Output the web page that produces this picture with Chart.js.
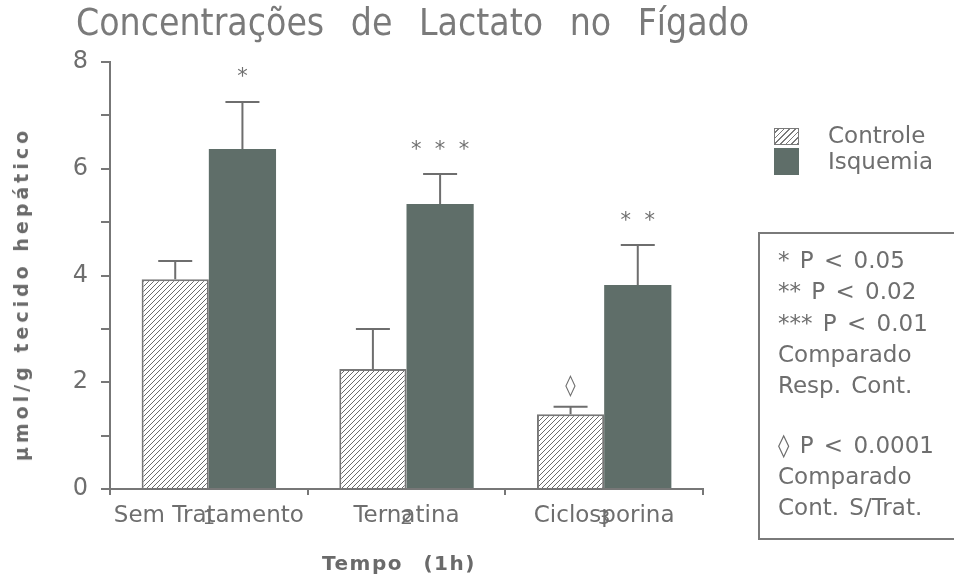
<!DOCTYPE html>
<html>
<head>
<meta charset="utf-8">
<script src="https://cdn.jsdelivr.net/npm/chart.js@4.4.1/dist/chart.umd.min.js"></script>
<style>
  html, body { margin: 0; padding: 0; background: #fff; }
  #wrap { position: relative; width: 954px; height: 581px; overflow: hidden; font-family: 'DejaVu Sans', sans-serif; color: #6e6e6e; }
  #c { position: absolute; left: 0; top: 0; }
  .abs { position: absolute; white-space: nowrap; }
  #title { left: 76px; top: 2px; font-family: 'DejaVu Sans Condensed', 'DejaVu Sans', sans-serif; font-stretch: condensed; font-size: 37px; color: #7a7a7a; word-spacing: 16px; line-height: 42px; }
  #ytitle { left: 21px; top: 294px; transform: translate(-50%, -50%) rotate(-90deg); font-weight: bold; font-size: 19px; letter-spacing: 4px; color: #6a6a6a; }
  #xtitle { left: 399px; top: 563px; transform: translate(-50%, -50%); font-weight: bold; font-size: 20px; letter-spacing: 1.5px; color: #6a6a6a; word-spacing: 12px; }
  .sw { position: absolute; left: 774px; width: 25px; height: 17px; box-sizing: border-box; }
  #sw1 { top: 128px; border: 1.5px solid #7a7a7a; background: repeating-linear-gradient(-45deg, #7a7a7a 0 1px, #fff 1px 4px); }
  #sw2 { top: 148px; height: 27px; background: #5f6e69; }
  .lg { font-size: 23px; left: 828px; }
  #pbox { left: 758px; top: 232px; width: 220px; height: 308px; border: 2px solid #7a7a7a; box-sizing: border-box; }
  .pl { font-size: 23px; left: 778px; word-spacing: 3px; }
</style>
</head>
<body>
<div id="wrap">
  <canvas id="c" width="954" height="581"></canvas>
  <div id="title" class="abs">Concentrações de Lactato no Fígado</div>
  <div id="ytitle" class="abs">µmol/g tecido hepático</div>
  <div id="xtitle" class="abs">Tempo (1h)</div>
  <div id="sw1" class="sw"></div>
  <div id="sw2" class="sw"></div>
  <div class="abs lg" style="top:122px;">Controle</div>
  <div class="abs lg" style="top:148px;">Isquemia</div>
  <div id="pbox" class="abs"></div>
  <div class="abs pl" style="top:247px;">* P &lt; 0.05</div>
  <div class="abs pl" style="top:278px;">** P &lt; 0.02</div>
  <div class="abs pl" style="top:310px;">*** P &lt; 0.01</div>
  <div class="abs pl" style="top:341px;">Comparado</div>
  <div class="abs pl" style="top:372px;">Resp. Cont.</div>
  <div class="abs pl" style="top:432px;">◊ P &lt; 0.0001</div>
  <div class="abs pl" style="top:463px;">Comparado</div>
  <div class="abs pl" style="top:494px;">Cont. S/Trat.</div>
</div>
<script>
// ---- data ----
const categories = ['Sem Tratamento', 'Ternatina', 'Ciclosporina'];
const tickNumbers = ['1', '2', '3'];
const yTickValues = [0, 2, 4, 6, 8];
const controle = [3.93, 2.25, 1.40];
const controleErr = [0.34, 0.75, 0.14];
const isquemia = [6.37, 5.34, 3.82];
const isquemiaErr = [0.88, 0.56, 0.75];
const controleMarks = ['', '', '◊'];
const isquemiaMarks = ['*', '*  *  *', '*  *'];

// ---- styles ----
const GREY = '#777777';
const TEXT = '#6e6e6e';
const DARK = '#5f6e69';

function hatchPattern() {
  const s = 5;
  const pc = document.createElement('canvas');
  pc.width = s; pc.height = s;
  const p = pc.getContext('2d');
  p.fillStyle = '#ffffff';
  p.fillRect(0, 0, s, s);
  p.strokeStyle = '#6a6a6a';
  p.lineWidth = 1;
  p.beginPath();
  p.moveTo(0, s); p.lineTo(s, 0);
  p.moveTo(-1, 1); p.lineTo(1, -1);
  p.moveTo(s - 1, s + 1); p.lineTo(s + 1, s - 1);
  p.stroke();
  return document.getElementById('c').getContext('2d').createPattern(pc, 'repeat');
}

const errs = [controleErr, isquemiaErr];
const marks = [controleMarks, isquemiaMarks];

const overlay = {
  id: 'overlay',
  afterDatasetsDraw(chart) {
    const ctx = chart.ctx;
    const y = chart.scales.y;
    const x = chart.scales.x;
    ctx.save();
    chart.data.datasets.forEach((ds, di) => {
      const meta = chart.getDatasetMeta(di);
      meta.data.forEach((bar, i) => {
        const top = y.getPixelForValue(ds.data[i] + errs[di][i]);
        ctx.strokeStyle = '#6e6e6e';
        ctx.lineWidth = 2;
        ctx.beginPath();
        ctx.moveTo(bar.x, bar.y);
        ctx.lineTo(bar.x, top);
        ctx.moveTo(bar.x - 17, top);
        ctx.lineTo(bar.x + 17, top);
        ctx.stroke();
        const m = marks[di][i];
        if (m) {
          ctx.fillStyle = '#707070';
          ctx.textAlign = 'center';
          ctx.textBaseline = 'middle';
          ctx.font = '21px "DejaVu Sans"';
          ctx.fillText(m, bar.x, top - (m === '◊' ? 20 : 24));
        }
      });
    });
    // category names over the numeric ticks
    ctx.fillStyle = TEXT;
    ctx.font = '23px "DejaVu Sans"';
    ctx.textAlign = 'center';
    ctx.textBaseline = 'middle';
    categories.forEach((c, i) => {
      ctx.fillText(c, x.getPixelForValue(i), 516);
    });
    ctx.restore();
  }
};

const chart = new Chart(document.getElementById('c'), {
  type: 'bar',
  data: {
    labels: categories,
    datasets: [
      { label: 'Controle', data: controle, backgroundColor: hatchPattern(), borderColor: GREY, borderWidth: 2, borderSkipped: 'bottom' },
      { label: 'Isquemia', data: isquemia, backgroundColor: DARK, borderColor: DARK, borderWidth: 0 }
    ]
  },
  options: {
    responsive: false,
    animation: false,
    devicePixelRatio: 1,
    layout: { padding: { left: 0, right: 251, top: 62, bottom: 0 } },
    plugins: { legend: { display: false }, tooltip: { enabled: false } },
    datasets: { bar: { categoryPercentage: 0.68, barPercentage: 1.0 } },
    scales: {
      x: {
        afterFit(s) { s.height = 92; },
        border: { color: GREY, width: 2 },
        grid: { drawOnChartArea: false, drawTicks: true, tickLength: 6, color: GREY, lineWidth: 2, offset: true },
        ticks: {
          color: TEXT, font: { family: 'DejaVu Sans', size: 20 }, padding: 12,
          callback: (v, i) => tickNumbers[i]
        }
      },
      y: {
        min: 0, max: 8,
        afterFit(s) { s.width = 110; },
        afterBuildTicks(s) { s.ticks = [0,1,2,3,4,5,6,7,8].map(v => ({ value: v })); },
        border: { color: GREY, width: 2 },
        grid: { drawOnChartArea: false, drawTicks: true, tickLength: 9, color: GREY, lineWidth: 2 },
        ticks: {
          color: TEXT, font: { family: 'DejaVu Sans', size: 24 }, padding: 13,
          callback: (v) => yTickValues.includes(v) ? String(v) : ''
        }
      }
    }
  },
  plugins: [overlay]
});
</script>
</body>
</html>
